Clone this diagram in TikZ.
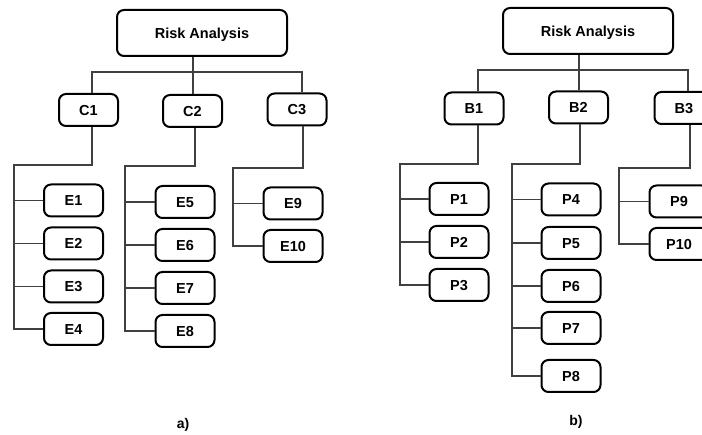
\documentclass[tikz,border=0pt]{standalone}
\usepackage{fontspec}
\setmainfont{Liberation Sans}
\begin{document}
\begin{tikzpicture}[x=1pt,y=-1pt,
  box/.style={draw=black,line width=2pt,rounded corners=7pt,minimum width=59pt,minimum height=32pt,inner sep=0pt,text height=10.4pt,text depth=0pt,font=\fontsize{14.5}{16}\selectfont\bfseries},
  rootbox/.style={box,minimum width=170pt,minimum height=46pt},
  conn/.style={draw=black!75,line width=1.1pt},
  lbl/.style={font=\fontsize{14}{16}\selectfont\bfseries}]
\useasboundingbox (0,0) rectangle (702,435);
\clip (0,0) rectangle (702,435);
% ---------- panel a ----------
\node[rootbox] (RA) at (202,33) {Risk Analysis};
\node[box] (C1) at (88.5,110) {C1};
\node[box] (C2) at (192.5,111) {C2};
\node[box] (C3) at (297,109.5) {C3};
\node[box] (E1) at (73.5,200.5) {E1};
\node[box] (E2) at (73.5,243.5) {E2};
\node[box] (E3) at (73.5,286.5) {E3};
\node[box] (E4) at (73.5,329) {E4};
\node[box] (E5) at (185,202) {E5};
\node[box] (E6) at (185,245) {E6};
\node[box] (E7) at (185,288) {E7};
\node[box] (E8) at (185,331) {E8};
\node[box] (E9) at (293,203.5) {E9};
\node[box] (E10) at (293,246) {E10};
\node[lbl] (la) at (183,425) {a)};
\coordinate (barA) at (193,72);
\coordinate (jA1) at (14,165);
\coordinate (jA2) at (125,166);
\coordinate (jA3) at (233,168);
\draw[conn] (barA |- RA.south) -- (barA);
\draw[conn] ([xshift=3.5pt]C1.north) |- (barA) -| ([xshift=5pt]C3.north);
\draw[conn] (barA) -- (barA |- C2.north);
\draw[conn] ([xshift=3.5pt]C1.south) |- (jA1) |- (E4.west);
\draw[conn] (jA1 |- E1.west) -- (E1.west);
\draw[conn] (jA1 |- E2.west) -- (E2.west);
\draw[conn] (jA1 |- E3.west) -- (E3.west);
\draw[conn] ([xshift=2.5pt]C2.south) |- (jA2) |- (E8.west);
\draw[conn] (jA2 |- E5.west) -- (E5.west);
\draw[conn] (jA2 |- E6.west) -- (E6.west);
\draw[conn] (jA2 |- E7.west) -- (E7.west);
\draw[conn] ([xshift=6pt]C3.south) |- (jA3) |- (E10.west);
\draw[conn] (jA3 |- E9.west) -- (E9.west);
% ---------- panel b ----------
\node[rootbox] (RB) at (588,31) {Risk Analysis};
\node[box] (B1) at (474,108.5) {B1};
\node[box] (B2) at (578.5,107.5) {B2};
\node[box] (B3) at (684,108) {B3};
\node[box] (P1) at (459,199) {P1};
\node[box] (P2) at (459,242) {P2};
\node[box] (P3) at (459,285) {P3};
\node[box] (P4) at (571,199.5) {P4};
\node[box] (P5) at (571,243) {P5};
\node[box] (P6) at (571,286) {P6};
\node[box] (P7) at (571,328) {P7};
\node[box] (P8) at (571,376) {P8};
\node[box] (P9) at (679,201.5) {P9};
\node[box] (P10) at (679,244) {P10};
\node[lbl] (lb) at (576,422) {b)};
\coordinate (barB) at (579,70);
\coordinate (jB1) at (400,164);
\coordinate (jB2) at (512,164);
\coordinate (jB3) at (619,168);
\draw[conn] (barB |- RB.south) -- (barB);
\draw[conn] ([xshift=4pt]B1.north) |- (barB) -| ([xshift=4pt]B3.north);
\draw[conn] (barB) -- (barB |- B2.north);
\draw[conn] ([xshift=4pt]B1.south) |- (jB1) |- (P3.west);
\draw[conn] (jB1 |- P1.west) -- (P1.west);
\draw[conn] (jB1 |- P2.west) -- (P2.west);
\draw[conn] ([xshift=1.5pt]B2.south) |- (jB2) |- (P8.west);
\draw[conn] (jB2 |- P4.west) -- (P4.west);
\draw[conn] (jB2 |- P5.west) -- (P5.west);
\draw[conn] (jB2 |- P6.west) -- (P6.west);
\draw[conn] (jB2 |- P7.west) -- (P7.west);
\draw[conn] ([xshift=6pt]B3.south) |- (jB3) |- (P10.west);
\draw[conn] (jB3 |- P9.west) -- (P9.west);
\end{tikzpicture}
\end{document}
